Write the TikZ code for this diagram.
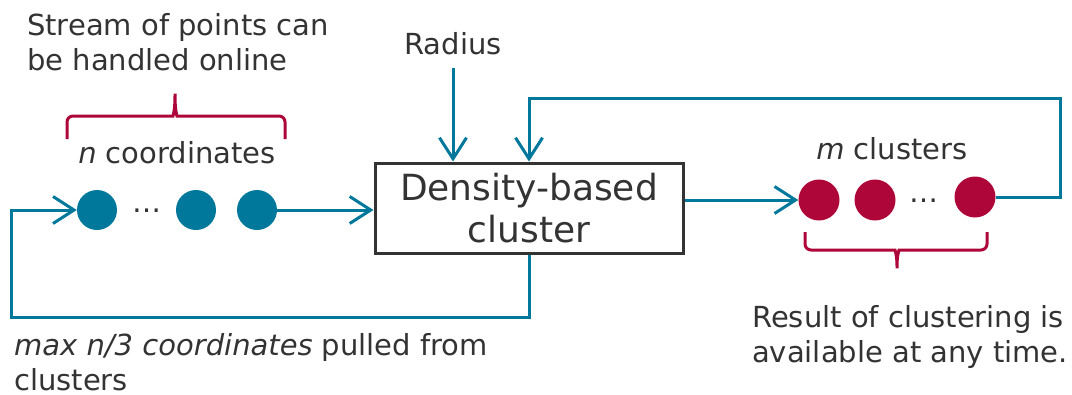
\documentclass[tikz,border=0pt]{standalone}
\usepackage{fontspec}
\setmainfont{DejaVu Sans}
\usetikzlibrary{arrows.meta}
\definecolor{flow}{HTML}{00789C}
\definecolor{accent}{HTML}{AE0638}
\definecolor{ink}{HTML}{333333}
\begin{document}
\begin{tikzpicture}[x=1pt,y=-1pt,
  flowline/.style={draw=flow,line width=3pt},
  tip/.style={-{Straight Barb[length=21pt,width=27pt]}},
  dotb/.style={circle,fill=flow,minimum size=40pt,inner sep=0pt},
  dotr/.style={circle,fill=accent,minimum size=41pt,inner sep=0pt},
  lbl/.style={text=ink,font=\fontsize{29}{35}\selectfont,inner sep=0pt,align=left},
  brace/.style={draw=accent,line width=3pt,rounded corners=6pt}]
\useasboundingbox (0,0) rectangle (1072,394);

% central processing block
\node[draw=ink,line width=3pt,minimum width=308pt,minimum height=90pt,inner sep=0pt,
      font=\fontsize{36}{42}\selectfont,align=center,text=ink] (box) at (529,208)
      {Density-based\\cluster};

% incoming coordinates
\node[dotb] (b1) at (97,210) {};
\node[dotb] (b2) at (196,210) {};
\node[dotb] (b3) at (257,210) {};
\node[lbl,anchor=base] (bdots) at (147,212) {\ldots};

% resulting clusters
\node[dotr] (r1) at (819,200) {};
\node[dotr] (r2) at (875,200) {};
\node[dotr] (r3) at (975,197) {};
\node[lbl,anchor=base] (rdots) at (924,202) {\ldots};

% labels (multi-line nodes are placed by the baseline of their last line)
\node[lbl,anchor=base west] (stream) at (27,70) {Stream of points can\\be handled online};
\node[lbl,anchor=base] (ncoord) at (177,163) {\textit{n} coordinates};
\node[lbl,anchor=base] (radius) at (453,54) {Radius};
\node[lbl,anchor=base] (mclust) at (892,159) {\textit{m} clusters};
\node[lbl,anchor=base west] (pulled) at (14,390) {\textit{max n/3 coordinates} pulled from\\clusters};
\node[lbl,anchor=base west] (result) at (752,362) {Result of clustering is\\available at any time.};

% connectors
\coordinate (radTail) at (453,68);
\coordinate (loopB) at (11,317);
\coordinate (loopT) at (1060,98);
\draw[flowline,tip] (radTail) -- (radTail |- box.north);
\draw[flowline,tip] (b3.east) -- (b3.east -| box.west);
\draw[flowline,tip] (box.east |- r1.west) -- (r1.west);
\draw[flowline,tip] (box.south) |- (loopB) |- (b1.west);
\draw[flowline,tip] (r3.east) -| (loopT) -| (box.north);

% braces
\draw[brace] (67,139) -- (67,116) -- (167,116) .. controls (173,116) and (175,110) .. (175,90)
  .. controls (175,110) and (177,116) .. (183,116) -- (285,116) -- (285,139);
\draw[brace] (805,232) -- (805,250) -- (889,250) .. controls (895,250) and (897,256) .. (897,272)
  .. controls (897,256) and (899,250) .. (905,250) -- (987,250) -- (987,232);
\end{tikzpicture}
\end{document}
